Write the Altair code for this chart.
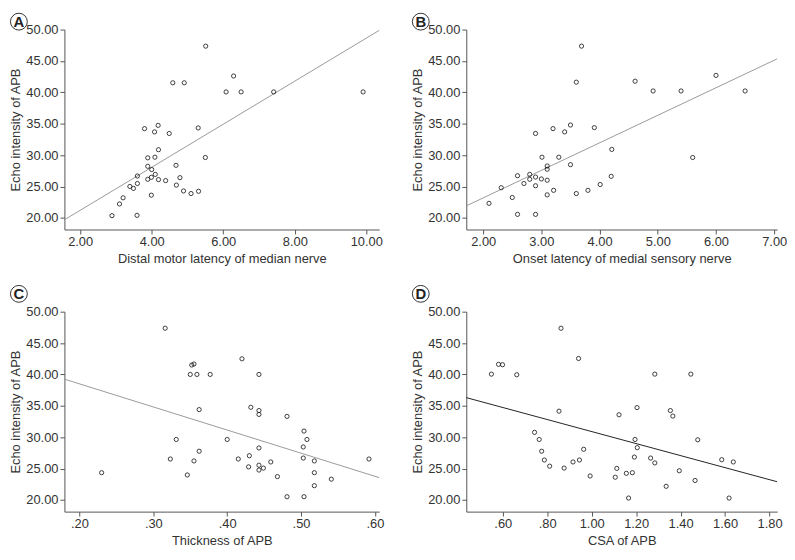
import altair as alt
import pandas as pd

# ---- data ----
a_x = [5.51, 4.59, 4.91, 6.29, 6.08, 6.50, 7.41, 9.91, 3.80, 4.18, 4.08, 4.49, 5.30, 4.19,
       3.89, 4.09, 5.50, 3.89, 4.68, 4.00, 3.60, 4.10, 3.99, 3.89, 4.19, 4.39, 4.79, 3.39,
       3.49, 3.60, 4.69, 4.89, 5.10, 5.31, 3.99, 3.20, 3.10, 2.89, 3.59]
a_y = [47.36, 41.52, 41.52, 42.60, 40.07, 40.07, 40.07, 40.07, 34.22, 34.74, 33.70, 33.45, 34.33, 30.86,
       29.57, 29.67, 29.62, 28.22, 28.38, 27.70, 26.67, 26.93, 26.46, 26.15, 26.10, 25.94, 26.41, 25.01,
       24.70, 25.48, 25.22, 24.29, 23.88, 24.24, 23.62, 23.20, 22.22, 20.36, 20.41]

b_x = [3.69, 3.60, 4.61, 4.92, 5.40, 6.00, 6.50, 2.90, 3.20, 3.40, 3.50, 3.91, 4.21, 3.01,
       3.30, 3.10, 3.10, 3.50, 5.60, 2.59, 2.80, 2.80, 2.90, 3.00, 3.10, 2.70, 2.90, 4.20,
       2.31, 4.01, 3.21, 3.80, 3.10, 3.60, 2.50, 2.10, 2.59, 2.90]
b_y = [47.36, 41.62, 41.77, 40.22, 40.22, 42.70, 40.22, 33.45, 34.22, 33.70, 34.79, 34.38, 30.91, 29.67,
       29.67, 28.27, 27.75, 28.48, 29.62, 26.72, 26.93, 26.15, 26.51, 26.20, 26.00, 25.48, 25.12, 26.62,
       24.81, 25.32, 24.39, 24.39, 23.67, 23.88, 23.25, 22.32, 20.56, 20.56]

c_x = [0.316, 0.352, 0.355, 0.350, 0.359, 0.377, 0.420, 0.443, 0.362, 0.432, 0.443, 0.443, 0.481, 0.504,
       0.508, 0.331, 0.400, 0.503, 0.443, 0.362, 0.430, 0.503, 0.323, 0.415, 0.355, 0.518, 0.459, 0.592,
       0.443, 0.429, 0.449, 0.443, 0.230, 0.346, 0.468, 0.518, 0.541, 0.518, 0.481, 0.504]
c_y = [47.36, 41.50, 41.66, 40.00, 40.00, 40.00, 42.49, 40.00, 34.40, 34.77, 34.25, 33.63, 33.32, 30.98,
       29.64, 29.64, 29.64, 28.45, 28.29, 27.77, 27.05, 26.68, 26.53, 26.53, 26.22, 26.22, 26.06, 26.53,
       25.54, 25.28, 25.08, 24.77, 24.35, 23.99, 23.73, 24.35, 23.32, 22.28, 20.52, 20.52]

d_x = [0.862, 0.941, 0.549, 0.581, 0.599, 0.663, 1.284, 1.446, 0.853, 1.123, 1.204, 1.354, 1.365, 0.743,
       0.764, 1.195, 1.477, 0.775, 0.964, 1.205, 0.787, 0.811, 0.876, 0.916, 0.945, 0.993, 1.106, 1.113,
       1.156, 1.183, 1.192, 1.265, 1.284, 1.166, 1.335, 1.394, 1.465, 1.585, 1.637, 1.618]
d_y = [47.36, 42.54, 40.05, 41.61, 41.55, 39.95, 40.05, 40.05, 34.15, 33.58, 34.72, 34.25, 33.37, 30.78,
       29.64, 29.64, 29.59, 27.77, 28.08, 28.34, 26.37, 25.39, 25.08, 26.06, 26.37, 23.83, 23.63, 25.03,
       24.25, 24.35, 26.84, 26.68, 25.91, 20.31, 22.18, 24.66, 23.11, 26.42, 26.06, 20.31]

y_ticks = [20, 25, 30, 35, 40, 45, 50]
a_ticks = [2, 4, 6, 8, 10]
b_ticks = [2, 3, 4, 5, 6, 7]
c_ticks = [0.2, 0.3, 0.4, 0.5, 0.6]
d_ticks = [0.6, 0.8, 1.0, 1.2, 1.4, 1.6, 1.8]

y_title = "Echo intensity of APB"
x_titles = ["Distal motor latency of median nerve", "Onset latency of medial sensory nerve",
            "Thickness of APB", "CSA of APB"]
letters = ["A", "B", "C", "D"]

TXT = "#333333"
LBL_EXPR = "datum.value < 1 ? substring(format(datum.value, '.2f'), 1) : format(datum.value, '.2f')"
H = 202


def panel(xs, ys, xdom, xticks, xtitle, letter, w, line_color, letter_dy):
    df = pd.DataFrame({"x": xs, "y": ys})
    xenc = alt.X("x:Q", scale=alt.Scale(domain=xdom, nice=False, zero=False),
                 axis=alt.Axis(values=xticks, labelExpr=LBL_EXPR, title=xtitle))
    yenc = alt.Y("y:Q", scale=alt.Scale(domain=[18.15, 50], nice=False, zero=False),
                 axis=alt.Axis(values=y_ticks, format=".2f", title=y_title))
    pts = alt.Chart(df).mark_point(shape="circle", filled=False, size=18, color="#111111",
                                   strokeWidth=0.8, opacity=1).encode(x=xenc, y=yenc)
    fit = alt.Chart(df).transform_regression("x", "y", extent=xdom).mark_line(
        color=line_color, strokeWidth=1).encode(x=xenc, y=yenc)
    ldf = pd.DataFrame({"t": [letter]})
    circ = alt.Chart(ldf).mark_point(shape="circle", filled=False, size=290, color="#333333",
                                     strokeWidth=1, opacity=1).encode(
        x=alt.value(-46), y=alt.value(letter_dy))
    txt = alt.Chart(ldf).mark_text(fontSize=15, fontWeight="bold", color="#222222",
                                   baseline="middle", align="center").encode(
        text="t:N", x=alt.value(-46), y=alt.value(letter_dy + 0.5))
    return alt.layer(fit, pts, circ, txt).properties(width=w, height=H)


pa = panel(a_x, a_y, [1.56, 10.36], a_ticks, x_titles[0], letters[0], 318, "#9a9a9a", -8)
pb = panel(b_x, b_y, [1.71, 7.05], b_ticks, x_titles[1], letters[1], 314, "#9a9a9a", -8)
pc = panel(c_x, c_y, [0.1796, 0.6058], c_ticks, x_titles[2], letters[2], 318, "#9a9a9a", -18)
pd_ = panel(d_x, d_y, [0.436, 1.834], d_ticks, x_titles[3], letters[3], 314, "#222222", -18)

chart = alt.concat(pa, pb, pc, pd_, columns=2, spacing={"row": 83, "column": 88},
                   bounds="flush").configure(
    font="Liberation Sans", padding=0, background="white"
).configure_view(stroke=None).configure_axis(
    grid=False, domainColor="#555555", tickColor="#555555", tickSize=4.5, domainWidth=1,
    labelColor=TXT, labelFontSize=13, labelFont="Liberation Sans", labelPadding=2,
    titleColor=TXT, titleFontSize=13, titleFontWeight="normal", titleFont="Liberation Sans",
    labelFlush=False, labelOverlap=False
).configure_axisX(titlePadding=4).configure_axisY(titlePadding=3)

chart.save("out.html", embed_options={"renderer": "svg", "actions": False})
